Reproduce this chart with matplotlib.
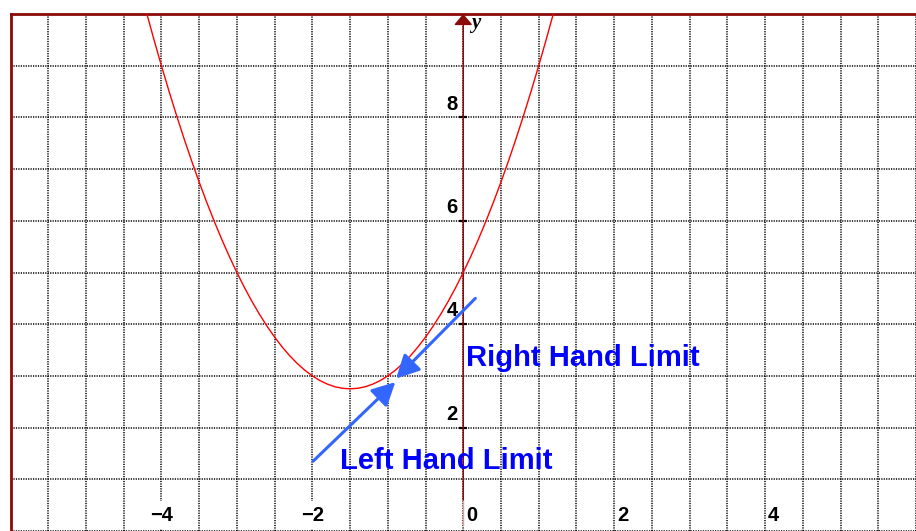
import numpy as np
import matplotlib
matplotlib.use("Agg")
import matplotlib.pyplot as plt

# parabola
curve_x = [-4.3, -4.2, -4.1, -4.0, -3.9, -3.8, -3.7, -3.6, -3.5, -3.4, -3.3,
           -3.2, -3.1, -3.0, -2.9, -2.8, -2.7, -2.6, -2.5, -2.4, -2.3, -2.2,
           -2.1, -2.0, -1.9, -1.8, -1.7, -1.6, -1.5, -1.4, -1.3, -1.2, -1.1,
           -1.0, -0.9, -0.8, -0.7, -0.6, -0.5, -0.4, -0.3, -0.2, -0.1, 0.0,
           0.1, 0.2, 0.3, 0.4, 0.5, 0.6, 0.7, 0.8, 0.9, 1.0, 1.1, 1.2, 1.3]
curve_y = [10.59, 10.04, 9.51, 9.0, 8.51, 8.04, 7.59, 7.16, 6.75, 6.36, 5.99,
           5.64, 5.31, 5.0, 4.71, 4.44, 4.19, 3.96, 3.75, 3.56, 3.39, 3.24,
           3.11, 3.0, 2.91, 2.84, 2.79, 2.76, 2.75, 2.76, 2.79, 2.84, 2.91,
           3.0, 3.11, 3.24, 3.39, 3.56, 3.75, 3.96, 4.19, 4.44, 4.71, 5.0,
           5.31, 5.64, 5.99, 6.36, 6.75, 7.16, 7.59, 8.04, 8.51, 9.0, 9.51,
           10.04, 10.59]

# limit arrows: (start, tip)
left_arrow = [(-1.99, 1.35), (-0.90, 2.88)]
right_arrow = [(0.16, 4.50), (-0.89, 2.95)]

xtick_vals = [-4, -2, 0, 2, 4]
ytick_vals = [2, 4, 6, 8]

AXIS_RED = '#8b0a0a'
ARROW_BLUE = '#3366ff'

fig = plt.figure(figsize=(9.16, 5.31), dpi=100)
ax = fig.add_axes([10.5 / 916, 0, 1 - 10.5 / 916, 1 - 14 / 531])
ax.set_xlim(-6.0, 5.84)
ax.set_ylim(0.12, 10)

# grid: every 0.5 in x, every 1 in y
ax.set_xticks(np.arange(-6, 6.01, 0.5))
ax.set_yticks(np.arange(0, 10.01, 1))
ax.tick_params(length=0, labelbottom=False, labelleft=False)
ax.grid(True, color='black', linestyle=(0, (0.8, 0.8)), linewidth=1.1)
ax.set_axisbelow(True)

for side in ['right', 'bottom']:
    ax.spines[side].set_visible(False)
for side in ['top', 'left']:
    ax.spines[side].set_color(AXIS_RED)
    ax.spines[side].set_linewidth(2)

# y axis with arrow head
ax.annotate('', xy=(0, 10), xytext=(0, 0.6),
            arrowprops=dict(arrowstyle='-|>,head_length=0.33,head_width=0.28',
                            color=AXIS_RED, lw=1.1, mutation_scale=20,
                            shrinkA=0, shrinkB=0), annotation_clip=False)
ax.plot([0, 0], [0.12, 0.6], color='#e0a0a0', lw=1)
ax.text(0.10, 9.72, 'y', family='Liberation Serif', style='italic',
        weight='bold', fontsize=15, va='baseline', ha='left')

# y tick marks and labels
ax.plot([0] * len(ytick_vals), ytick_vals, linestyle='none', marker='_',
        markersize=6, mew=1.6, color='black')
for v in ytick_vals:
    ax.text(-0.07, v + 0.15, str(v), ha='right', va='baseline',
            fontsize=14.5, weight='bold', family='Liberation Sans')

# x tick labels near the bottom
for v in xtick_vals:
    if v < 0:
        ax.text(v, 0.2, '\u2212' + str(-v), ha='center', va='baseline',
                fontsize=14.5, weight='bold', family='Liberation Sans',
                bbox=dict(facecolor='white', edgecolor='none', pad=3))
    else:
        ax.text(v + 0.04, 0.2, str(v), ha='left', va='baseline',
                fontsize=14.5, weight='bold', family='Liberation Sans')

# the curve
ax.plot(curve_x, curve_y, color='#ff0000', lw=1.0, zorder=3)

# limit arrows
for (start, tip) in [left_arrow, right_arrow]:
    ax.annotate('', xy=tip, xytext=start,
                arrowprops=dict(arrowstyle='-|>,head_length=0.7,head_width=0.36',
                                color=ARROW_BLUE, lw=2.2, mutation_scale=20,
                                shrinkA=0, shrinkB=0), zorder=4)

ax.text(0.037, 3.20, 'Right Hand Limit', color='#0000ff', fontsize=21,
        weight='bold', family='Liberation Sans', ha='left', va='baseline', zorder=5)
ax.text(-1.637, 1.20, 'Left Hand Limit', color='#0000ff', fontsize=21,
        weight='bold', family='Liberation Sans', ha='left', va='baseline', zorder=5)

fig.savefig('out.png', dpi=100)
